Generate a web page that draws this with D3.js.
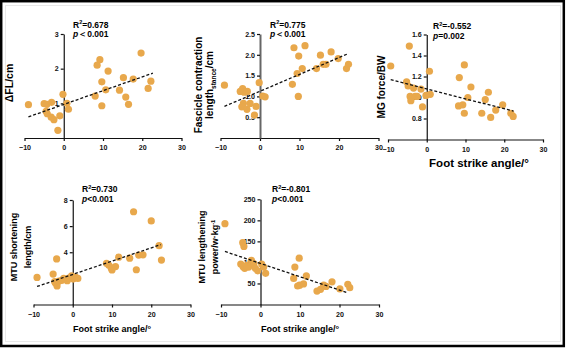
<!DOCTYPE html>
<html>
<head>
<meta charset="utf-8">
<script src="https://cdn.jsdelivr.net/npm/d3@7"></script>
<style>
  body { margin: 0; background: #fff; }
  svg { display: block; font-family: "Liberation Sans", Arial, sans-serif; font-weight: bold; }
</style>
</head>
<body>
<svg id="chart" width="566" height="348"></svg>
<script>
// foot strike angle ticks (shared)
const xTicks = [-10, 0, 10, 20, 30];

// ΔFL/cm
const flX = [-9.0, -5.0, -4.3, -3.1, -4.5, -4.2, -3.2, -2.5, -1.5, -1.0, -0.2, 0.8, 1.2, 8.0, 8.5, 9.2, 9.7, 9.7, 10.7, 11.3, 14.2, 15.2, 15.8, 16.5, 17.7, 19.7, 21.5, 22.2];
const flY = [0.96, 0.99, 0.97, 1.03, 0.77, 0.70, 0.60, 0.53, 0.22, 0.64, 1.26, 1.00, 0.83, 1.21, 2.10, 2.26, 1.62, 0.93, 1.39, 1.93, 1.38, 1.74, 1.18, 0.97, 1.70, 2.45, 1.43, 1.64];
const flFit = [-9.0, 0.61, 22.7, 1.87];
const flTicks = [1, 2, 3];

// fascicle contraction length (stance)
const fcX = [-9.0, -5.0, -4.4, -4.0, -3.2, -4.2, -4.6, -3.3, -2.5, -1.4, -1.0, -0.2, 0.7, 1.3, 8.2, 8.6, 9.4, 9.7, 9.8, 10.7, 11.4, 14.3, 15.3, 16.0, 16.7, 18.0, 19.8, 21.9, 22.4];
const fcY = [1.27, 1.12, 1.19, 1.10, 1.12, 0.83, 0.75, 0.69, 0.83, 0.55, 0.76, 1.33, 1.01, 0.99, 1.29, 2.17, 1.55, 1.00, 1.97, 1.67, 2.22, 1.67, 1.99, 1.77, 1.77, 2.07, 1.91, 1.67, 1.77];
const fcFit = [-9.0, 0.76, 22.4, 2.03];
const fcTicks = [0.5, 1.0, 1.5, 2.0, 2.5];

// MG force/BW
const mgX = [-9.3, -4.5, -5.2, -4.8, -3.4, -1.5, 0.7, -4.3, -4.1, -3.0, -2.5, -1.1, -0.2, 0.9, 8.4, 8.2, 9.3, 9.7, 9.7, 10.6, 11.4, 14.2, 15.1, 15.9, 16.5, 17.8, 19.6, 21.7, 22.3];
const mgY = [1.30, 1.49, 1.15, 1.11, 1.09, 1.08, 1.25, 1.01, 0.97, 1.01, 1.01, 0.91, 1.02, 1.03, 1.19, 0.92, 0.93, 1.31, 0.85, 1.00, 1.10, 0.85, 0.98, 1.05, 0.81, 0.88, 0.93, 0.85, 0.82];
const mgFit = [-9.3, 1.17, 22.4, 0.87];
const mgTicks = [0.8, 1.0, 1.2, 1.4, 1.6];

// MTU shortening length/cm
const slX = [-9.1, -5.0, -4.1, -4.4, -4.0, -4.6, -3.5, -2.8, -2.3, -1.4, -1.0, -0.3, 0.1, 0.7, 1.3, 8.6, 9.2, 9.8, 10.0, 10.9, 11.7, 14.5, 15.5, 16.2, 16.8, 17.9, 20.0, 22.0, 22.6];
const slY = [2.07, 2.33, 3.49, 1.65, 1.42, 1.75, 1.80, 1.85, 2.00, 1.82, 2.02, 2.20, 1.95, 2.10, 2.00, 3.15, 3.00, 2.80, 2.65, 2.90, 3.62, 3.55, 7.10, 2.66, 3.78, 3.80, 6.40, 4.50, 3.40];
const slFit = [-9.1, 1.38, 22.4, 4.58];
const slTicks = [4, 6, 8];

// MTU lengthening power/w·kg-1
const lpX = [-9.0, -4.5, -4.2, -5.0, -4.4, -4.0, -3.5, -3.0, -2.3, -1.7, -1.3, -0.7, 0.3, 0.8, 1.3, 8.7, 8.4, 9.8, 9.4, 9.9, 10.9, 11.6, 14.3, 15.2, 16.0, 16.6, 18.1, 20.1, 22.1, 22.6];
const lpY = [192, 147, 138, 96, 90, 86, 93, 89, 105, 97, 86, 80, 96, 89, 74, 89, 62, 110, 44, 46, 49, 68, 32, 36, 46, 43, 54, 37, 48, 40];
const lpFit = [-9.0, 126, 22.0, 28];
const lpTicks = [50, 100, 150, 200, 250];

const svg = d3.select('#chart');

// frame
svg.append('rect').attr('x', 1.2).attr('y', 1.2).attr('width', 562.6).attr('height', 344.8)
    .attr('fill', 'none').attr('stroke', '#000').attr('stroke-width', 2.5);
svg.append('rect').attr('x', 5.5).attr('y', 5.5).attr('width', 555).attr('height', 336)
    .attr('fill', 'none').attr('stroke', '#e8e8e8').attr('stroke-width', 1);

const panels = [
    { xs: flX, ys: flY, fit: flFit, ticks: flTicks, ydom: [0, 3], xr: [24.5, 181.5], yr: [138, 34],
      r2: '0.678', p: '＜0.001', annX: 73, annY: 27.5,
      title: [['ΔFL/cm']], titleX: [13], titleY: 83, titleSize: 10.5 },
    { xs: fcX, ys: fcY, fit: fcFit, ticks: fcTicks, ydom: [0, 2.5], xr: [220.5, 378.5], yr: [138, 34],
      r2: '0.775', p: '＜0.001', annX: 270, annY: 27.5, grayAxis: true,
      title: [['Fascicle contraction'], ['length', 'stance', '/cm']], titleX: [202, 213], titleY: 85, titleSize: 10 },
    { xs: mgX, ys: mgY, fit: mgFit, ticks: mgTicks, ydom: [0.6, 1.6], xr: [388, 543], yr: [139.5, 34.5],
      r2: '-0.552', p: '=0.002', annX: 433, annY: 29,
      title: [['MG force/BW']], titleX: [385], titleY: 87, titleSize: 10,
      xTitle: { x: 479, y: 167, size: 11.5 } },
    { xs: slX, ys: slY, fit: slFit, ticks: slTicks, ydom: [0, 8], xr: [33.5, 190.5], yr: [304.5, 200],
      r2: '0.730', p: '<0.001', annX: 82, annY: 192,
      title: [['MTU shortening'], ['length/cm']], titleX: [17, 31], titleY: 247, titleSize: 9,
      xTitle: { x: 112, y: 332, size: 9 } },
    { xs: lpX, ys: lpY, fit: lpFit, ticks: lpTicks, ydom: [0, 250], xr: [221, 379], yr: [304.5, 199.3],
      r2: '-0.801', p: '<0.001', annX: 272, annY: 192,
      title: [['MTU lengthening'], ['power/w·kg', '-1']], titleX: [205, 218], titleY: 247, titleSize: 9,
      xTitle: { x: 300, y: 332, size: 9 } }
];

panels.forEach(function (d) {
    const x = d3.scaleLinear().domain([-10, 30]).range(d.xr);
    const y = d3.scaleLinear().domain(d.ydom).range(d.yr);
    const g = svg.append('g');

    // x axis
    const gx = g.append('g').attr('transform', 'translate(0,' + d.yr[0] + ')')
        .call(d3.axisBottom(x).tickValues(xTicks).tickSize(3).tickSizeOuter(0).tickPadding(4));
    // y axis sits at x = 0
    const gy = g.append('g').attr('transform', 'translate(' + x(0) + ',0)')
        .call(d3.axisLeft(y).tickValues(d.ticks).tickSize(3).tickSizeOuter(0).tickPadding(2)
            .tickFormat(d.ydom[1] < 5 && d.ticks[0] % 1 !== 0 ? d3.format('.1f') : d3.format('d')));
    [gx, gy].forEach(function (a) {
        a.selectAll('text').attr('font-size', 7.1).attr('font-family', null).attr('fill', '#111');
        a.selectAll('path, line').attr('stroke', '#111').attr('stroke-width', 1.2);
    });
    if (d.grayAxis) gy.select('path').attr('stroke', '#666').attr('stroke-width', 2);

    // points
    g.append('g').selectAll('circle')
        .data(d.xs.map((v, i) => [v, d.ys[i]]))
        .join('circle')
        .attr('cx', p => x(p[0]))
        .attr('cy', p => y(p[1]))
        .attr('r', 3.6)
        .attr('fill', '#E8A84C');

    // fit line
    g.append('line')
        .attr('x1', x(d.fit[0])).attr('y1', y(d.fit[1]))
        .attr('x2', x(d.fit[2])).attr('y2', y(d.fit[3]))
        .attr('stroke', '#111').attr('stroke-width', 1.3).attr('stroke-dasharray', '3,2');

    // R² / p annotation
    const r = g.append('text').attr('x', d.annX).attr('y', d.annY).attr('font-size', 8.5);
    r.append('tspan').text('R');
    r.append('tspan').attr('dy', -3.5).attr('font-size', 5.5).text('2');
    r.append('tspan').attr('dy', 3.5).text('=' + d.r2);
    const pt = g.append('text').attr('x', d.annX).attr('y', d.annY + 9.5).attr('font-size', 8.5);
    pt.append('tspan').attr('font-style', 'italic').text('p');
    pt.append('tspan').text(d.p);

    // y title
    d.title.forEach(function (line, i) {
        const t = g.append('text')
            .attr('transform', 'translate(' + d.titleX[i] + ',' + d.titleY + ') rotate(-90)')
            .attr('text-anchor', 'middle')
            .attr('font-size', d.titleSize);
        t.append('tspan').text(line[0]);
        if (line.length > 1) {
            const sub = line[1] === 'stance';
            t.append('tspan').attr('dy', sub ? 2.5 : -3.5).attr('font-size', d.titleSize * 0.65).text(line[1]);
            if (line[2]) t.append('tspan').attr('dy', sub ? -2.5 : 3.5).text(line[2]);
        }
    });

    // x title
    if (d.xTitle) {
        g.append('text').attr('x', d.xTitle.x).attr('y', d.xTitle.y)
            .attr('text-anchor', 'middle').attr('font-size', d.xTitle.size)
            .text('Foot strike angle/°');
    }
});
</script>
</body>
</html>
